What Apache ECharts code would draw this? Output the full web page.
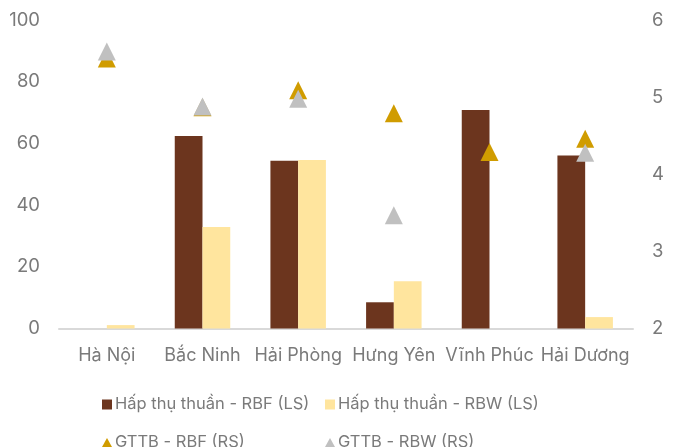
<!DOCTYPE html>
<html>
<head>
<meta charset="utf-8">
<script src="https://cdn.jsdelivr.net/npm/echarts@6/dist/echarts.min.js"></script>
<style>
  html, body { margin: 0; padding: 0; background: #ffffff; }
  #chart { width: 685px; height: 447px; }
</style>
</head>
<body>
<div id="chart"></div>
<script>
// Provinces on the category axis
const provinces = ['Hà Nội', 'Bắc Ninh', 'Hải Phòng', 'Hưng Yên', 'Vĩnh Phúc', 'Hải Dương'];

// Net absorption (left scale)
const netRBF = [null, 62.4, 54.4, 8.5, 70.8, 56.1];
const netRBW = [1.1, 32.9, 54.6, 15.3, null, 3.7];

// Average price (right scale)
const priceRBF = [5.50, 4.87, 5.09, 4.79, 4.29, 4.46];
const priceRBW = [5.59, 4.88, 4.98, 3.47, null, 4.28];

// Series names shown in the legend
const nameNetRBF = 'Hấp thụ thuần - RBF (LS)';
const nameNetRBW = 'Hấp thụ thuần - RBW (LS)';
const namePriceRBF = 'GTTB - RBF (RS)';
const namePriceRBW = 'GTTB - RBW (RS)';

const FONT = 'Inter';
const TEXT = '#7a7a7a';
const BROWN = '#6c351e';
const CREAM = '#ffe59e';
const GOLD = '#d09c00';
const GREY = '#c0c0c0';

const chart = echarts.init(document.getElementById('chart'));

function legendAt(name, left, top, icon, w, h) {
  return {
    data: [name],
    left: left, top: top,
    icon: icon,
    itemWidth: w, itemHeight: h,
    itemGap: 0,
    padding: 0,
    textStyle: { color: TEXT, fontFamily: FONT, fontSize: 16.5, padding: [0, 0, 0, -2] }
  };
}

chart.setOption({
  animation: false,
  grid: { left: 59, right: 52, top: 20, bottom: 118.5 },
  legend: [
    legendAt(nameNetRBF, 102, 396, 'rect', 10, 10),
    legendAt(nameNetRBW, 325, 396, 'rect', 10, 10),
    legendAt(namePriceRBF, 102, 434, 'triangle', 10, 9),
    legendAt(namePriceRBW, 325, 434, 'triangle', 10, 9)
  ],
  xAxis: {
    type: 'category',
    data: provinces,
    axisLine: { lineStyle: { color: '#d9d9d9', width: 2 } },
    axisTick: { show: false },
    axisLabel: { color: TEXT, fontFamily: FONT, fontSize: 18, margin: 18, interval: 0 }
  },
  yAxis: [
    {
      type: 'value', min: 0, max: 100, interval: 20,
      splitLine: { show: false },
      axisLine: { show: false }, axisTick: { show: false },
      axisLabel: { color: TEXT, fontFamily: FONT, fontSize: 18.5, margin: 19 }
    },
    {
      type: 'value', min: 2, max: 6, interval: 1,
      splitLine: { show: false },
      axisLine: { show: false }, axisTick: { show: false },
      axisLabel: { color: TEXT, fontFamily: FONT, fontSize: 18.5, margin: 19 }
    }
  ],
  series: [
    {
      name: nameNetRBF, type: 'bar', yAxisIndex: 0,
      data: netRBF, barGap: '0%', barCategoryGap: '42%',
      itemStyle: { color: BROWN }
    },
    {
      name: nameNetRBW, type: 'bar', yAxisIndex: 0,
      data: netRBW, barGap: '0%', barCategoryGap: '42%',
      itemStyle: { color: CREAM }
    },
    {
      name: namePriceRBF, type: 'scatter', yAxisIndex: 1,
      data: priceRBF, symbol: 'triangle', symbolSize: [18, 18],
      itemStyle: { color: GOLD, opacity: 1 }
    },
    {
      name: namePriceRBW, type: 'scatter', yAxisIndex: 1,
      data: priceRBW, symbol: 'triangle', symbolSize: [18, 18],
      itemStyle: { color: GREY, opacity: 1 }
    }
  ]
});
</script>
</body>
</html>
